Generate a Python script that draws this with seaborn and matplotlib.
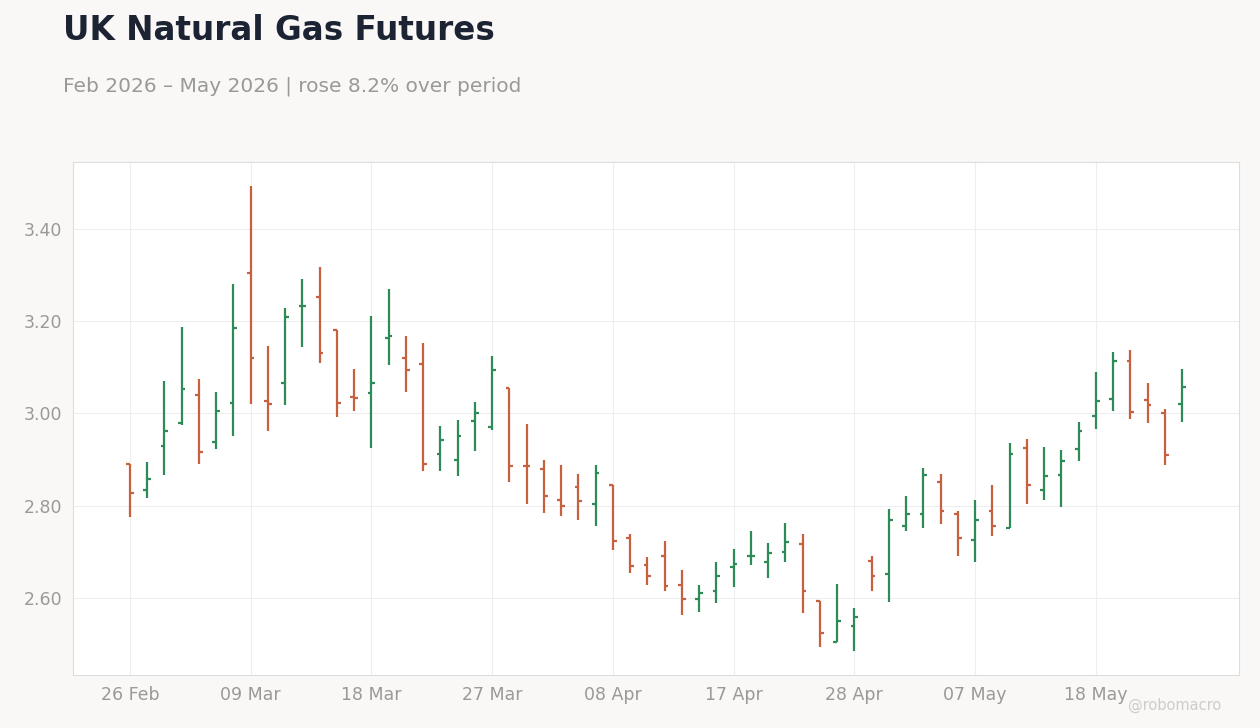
import numpy as np
import pandas as pd
import matplotlib
matplotlib.use("Agg")
import matplotlib.pyplot as plt
import seaborn as sns

# OHLC values, one per trading day
opens = [2.891, 2.833, 2.930, 2.980, 3.041, 2.937, 3.023, 3.305, 3.028, 3.065,
         3.232, 3.253, 3.180, 3.036, 3.045, 3.164, 3.121, 3.108, 2.911, 2.900,
         2.984, 2.971, 3.056, 2.886, 2.880, 2.813, 2.840, 2.804, 2.844, 2.731,
         2.672, 2.692, 2.629, 2.598, 2.614, 2.668, 2.690, 2.677, 2.700, 2.718,
         2.594, 2.505, 2.540, 2.681, 2.651, 2.755, 2.783, 2.852, 2.781, 2.726,
         2.789, 2.752, 2.926, 2.833, 2.867, 2.922, 2.995, 3.032, 3.114, 3.030,
         3.000, 3.021]
highs = [2.891, 2.895, 3.070, 3.188, 3.075, 3.047, 3.281, 3.493, 3.146, 3.229,
         3.292, 3.318, 3.180, 3.096, 3.211, 3.270, 3.168, 3.153, 2.973, 2.986,
         3.025, 3.125, 3.056, 2.977, 2.899, 2.888, 2.869, 2.888, 2.844, 2.739,
         2.689, 2.724, 2.661, 2.628, 2.678, 2.706, 2.745, 2.719, 2.763, 2.739,
         2.594, 2.630, 2.579, 2.691, 2.793, 2.821, 2.882, 2.869, 2.789, 2.812,
         2.845, 2.936, 2.945, 2.927, 2.921, 2.982, 3.090, 3.133, 3.138, 3.066,
         3.010, 3.096]
lows = [2.776, 2.817, 2.867, 2.974, 2.891, 2.922, 2.952, 3.021, 2.961, 3.019,
        3.145, 3.110, 2.993, 3.006, 2.924, 3.104, 3.046, 2.876, 2.876, 2.865,
        2.919, 2.965, 2.852, 2.804, 2.785, 2.778, 2.770, 2.757, 2.703, 2.655,
        2.629, 2.616, 2.562, 2.570, 2.588, 2.624, 2.672, 2.644, 2.677, 2.568,
        2.494, 2.505, 2.484, 2.616, 2.592, 2.746, 2.752, 2.761, 2.690, 2.677,
        2.735, 2.752, 2.804, 2.813, 2.798, 2.896, 2.967, 3.006, 2.987, 2.980,
        2.889, 2.982]
closes = [2.828, 2.858, 2.961, 3.054, 2.917, 3.005, 3.186, 3.121, 3.021, 3.210,
          3.233, 3.132, 3.023, 3.034, 3.065, 3.167, 3.095, 2.891, 2.943, 2.952,
          3.000, 3.095, 2.886, 2.885, 2.820, 2.800, 2.811, 2.870, 2.724, 2.670,
          2.648, 2.627, 2.598, 2.611, 2.648, 2.674, 2.690, 2.698, 2.722, 2.614,
          2.523, 2.551, 2.559, 2.648, 2.768, 2.781, 2.867, 2.789, 2.731, 2.770,
          2.757, 2.911, 2.844, 2.865, 2.896, 2.961, 3.026, 3.114, 3.004, 3.019,
          2.909, 3.058]
tick_labels = ["26 Feb", "09 Mar", "18 Mar", "27 Mar", "08 Apr",
               "17 Apr", "28 Apr", "07 May", "18 May"]
tick_step = 7

df = pd.DataFrame({"open": opens, "high": highs, "low": lows, "close": closes})
df["x"] = np.arange(len(df))
up_col, down_col = "#2e8b57", "#c8603f"
df["color"] = np.where(df["close"] >= df["open"], up_col, down_col)

sns.set_theme(style="whitegrid")
plt.rcParams["font.family"] = ["DejaVu Sans"]

fig = plt.figure(figsize=(12.6, 7.28), dpi=100, facecolor="#f9f8f6")
ax = fig.add_axes([73 / 1260, 1 - 675 / 728, 1166 / 1260, 513 / 728])
ax.set_facecolor("white")

tw = 0.22
ax.vlines(df["x"], df["low"], df["high"], colors=df["color"], lw=1.6)
ax.hlines(df["open"], df["x"] - tw, df["x"], colors=df["color"], lw=1.6)
ax.hlines(df["close"], df["x"], df["x"] + tw, colors=df["color"], lw=1.6)

ax.set_xlim(-3.3, 64.3)
ax.set_ylim(2.433, 3.545)
ax.set_yticks([2.6, 2.8, 3.0, 3.2, 3.4])
ax.set_yticklabels([f"{v:.2f}" for v in [2.6, 2.8, 3.0, 3.2, 3.4]])
ax.set_xticks(np.arange(len(tick_labels)) * tick_step)
ax.set_xticklabels(tick_labels)
ax.grid(True, color="#eeeeee", lw=0.8)
ax.tick_params(colors="#999999", labelsize=12.5, length=0, pad=8)
for s in ax.spines.values():
    s.set_color("#dddddd")
    s.set_linewidth(0.8)

fig.text(63 / 1260, 1 - 31 / 728, "UK Natural Gas Futures", fontsize=23.5,
         fontweight="bold", color="#1c2333", va="center")
fig.text(63 / 1260, 1 - 86 / 728, "Feb 2026 \u2013 May 2026 | rose 8.2% over period",
         fontsize=14.5, color="#999999", va="center")
fig.text(1221 / 1260, 1 - 705 / 728, "@robomacro", fontsize=10.5,
         color="#cccccc", ha="right", va="center")

fig.savefig("out.png", dpi=100, facecolor=fig.get_facecolor())
